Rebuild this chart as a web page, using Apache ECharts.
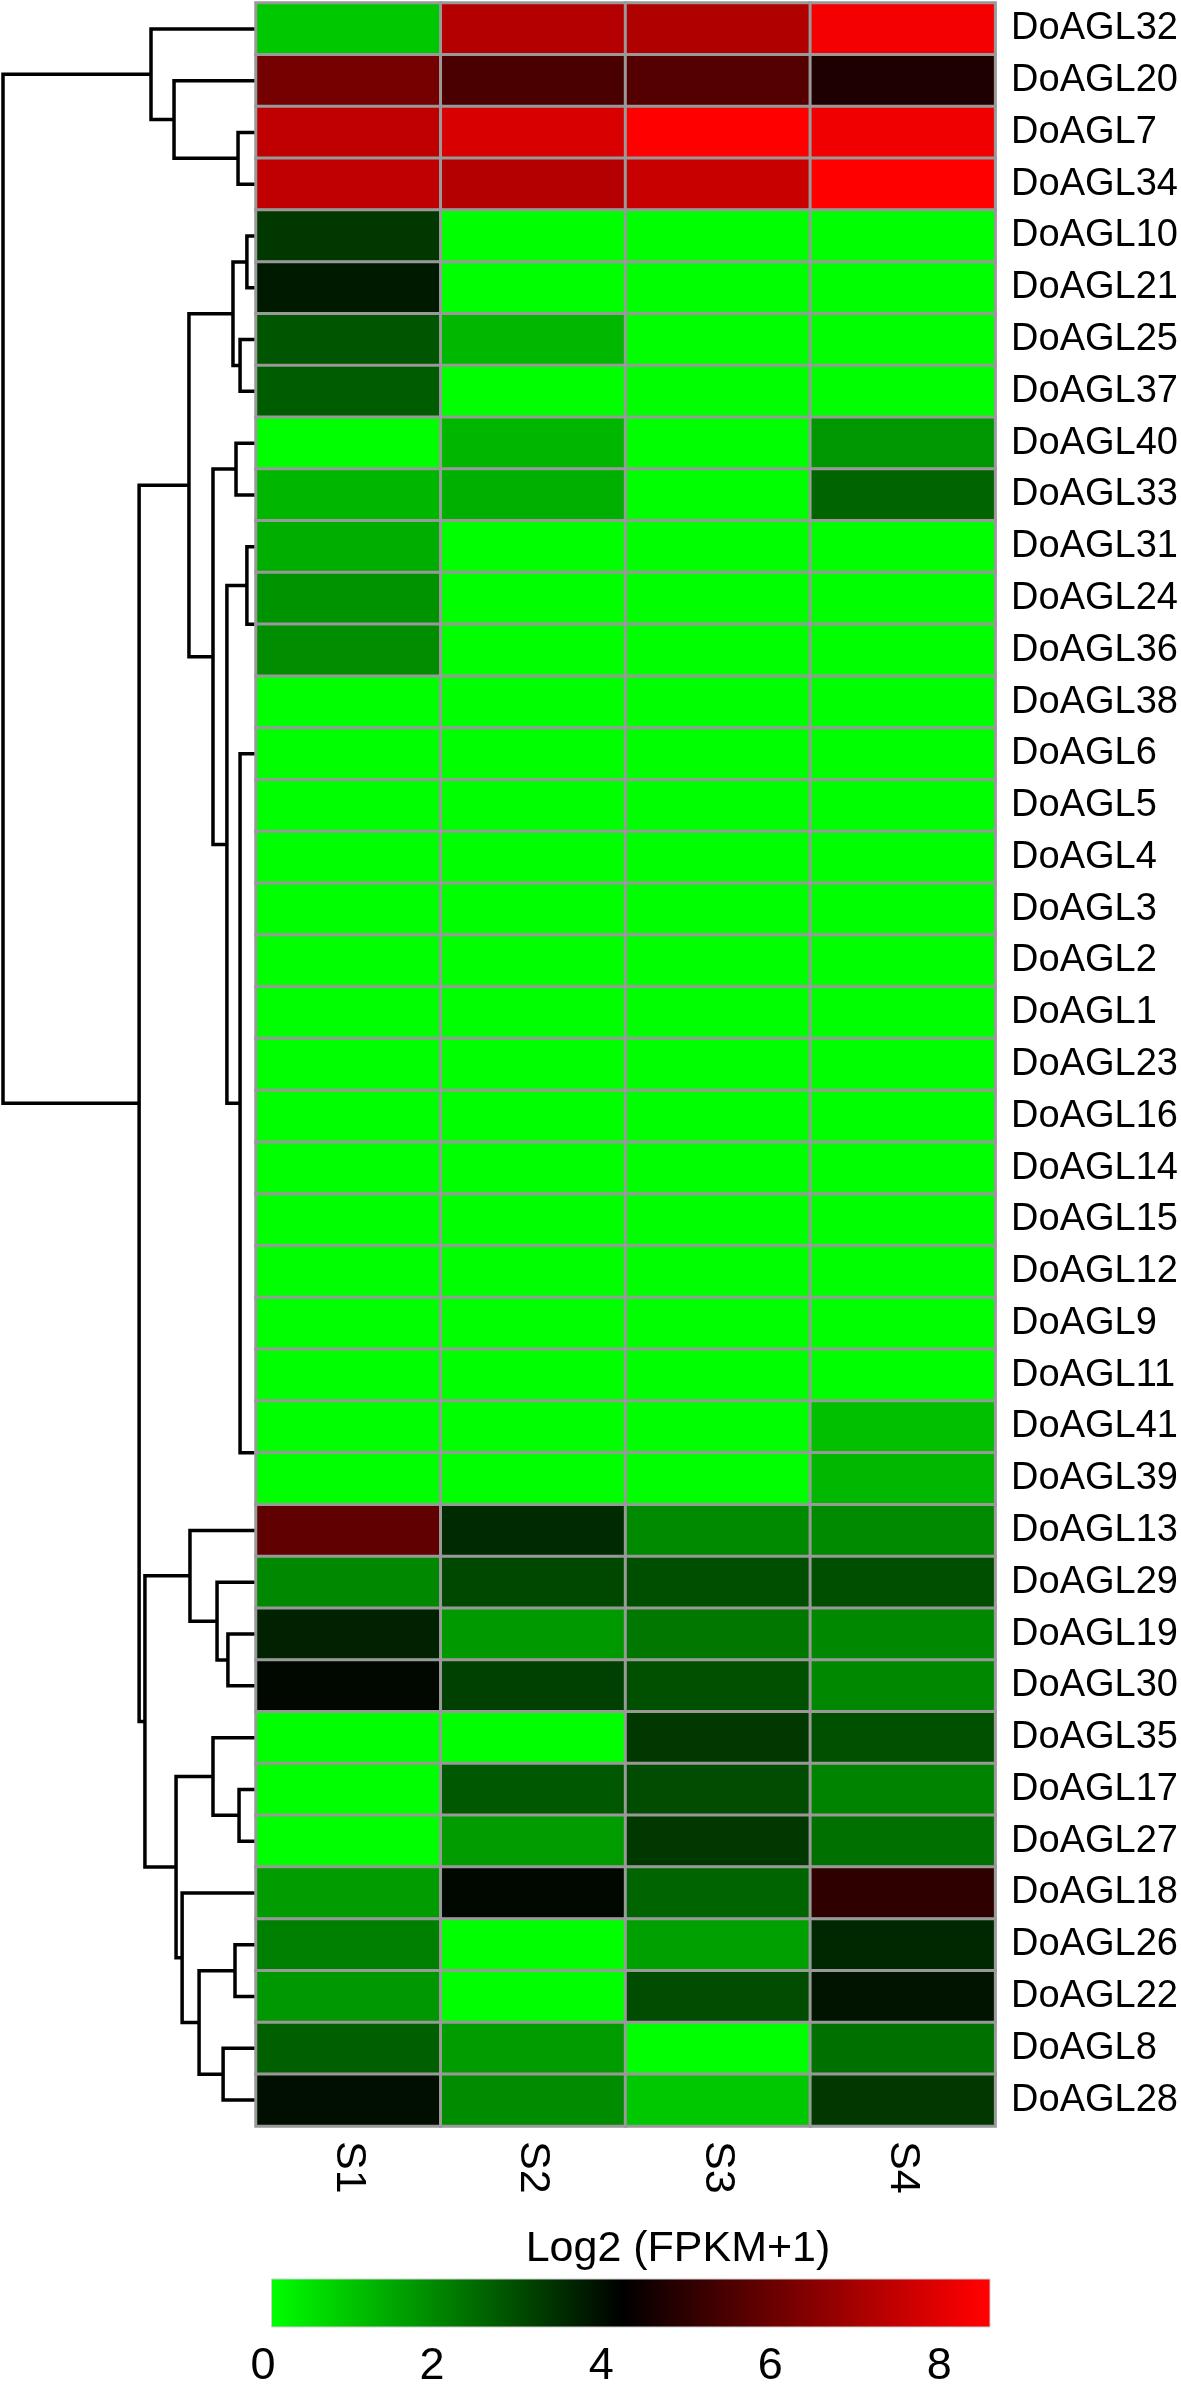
<!DOCTYPE html>
<html>
<head>
<meta charset="utf-8">
<script src="https://cdn.jsdelivr.net/npm/echarts@6/dist/echarts.min.js"></script>
<style>
html,body{margin:0;padding:0;background:#ffffff;}
#chart{width:1181px;height:2390px;}
</style>
</head>
<body>
<div id="chart"></div>
<script>
// ---------- data ----------
const genes = ['DoAGL32','DoAGL20','DoAGL7','DoAGL34','DoAGL10','DoAGL21','DoAGL25','DoAGL37','DoAGL40','DoAGL33',
  'DoAGL31','DoAGL24','DoAGL36','DoAGL38','DoAGL6','DoAGL5','DoAGL4','DoAGL3','DoAGL2','DoAGL1',
  'DoAGL23','DoAGL16','DoAGL14','DoAGL15','DoAGL12','DoAGL9','DoAGL11','DoAGL41','DoAGL39','DoAGL13',
  'DoAGL29','DoAGL19','DoAGL30','DoAGL35','DoAGL17','DoAGL27','DoAGL18','DoAGL26','DoAGL22','DoAGL8','DoAGL28'];
const samples = ['S1','S2','S3','S4'];
const S1 = [0.92,6.18,7.45,7.45,3.32,3.82,2.83,2.72,0,1.2, 1.35,1.8,1.9,0,0,0,0,0,0,0, 0,0,0,0,0,0,0,0,0,5.85, 1.98,3.68,4.12,0,0,0,1.65,2.12,1.72,2.65,4.0];
const S2 = [7.25,5.48,7.85,7.25,0,0,1.18,0,1.2,1.32, 0,0,0,0,0,0,0,0,0,0, 0,0,0,0,0,0,0,0,0,3.55, 3.05,1.68,3.18,0,2.78,1.65,4.12,0,0,1.65,1.91];
const S3 = [7.18,5.67,8.5,7.58,0,0,0,0,0,0, 0,0,0,0,0,0,0,0,0,0, 0,0,0,0,0,0,0,0,0,1.95, 2.93,2.25,2.92,3.32,2.98,3.32,2.58,1.58,2.98,0,0.92];
const S4 = [8.33,4.75,8.25,8.5,0,0,0,0,1.72,2.58, 0,0,0,0,0,0,0,0,0,0, 0,0,0,0,0,0,0,1.05,1.18,1.95, 2.93,1.98,1.98,2.92,2.05,2.38,5.02,3.58,3.92,2.38,3.32];

// colour scale (Log2 (FPKM+1))
const rampValues = [0, 4.25, 8.5];
const rampColors = ['#00ff00', '#000000', '#ff0000'];
const colorTicks = [0, 2, 4, 6, 8];
const colorbarRange = [0.1, 8.6];

// dendrogram: [height, left, right]
const zeroBlock = [0,'DoAGL38',[0,'DoAGL6',[0,'DoAGL5',[0,'DoAGL4',[0,'DoAGL3',[0,'DoAGL2',[0,'DoAGL1',
  [0,'DoAGL23',[0,'DoAGL16',[0,'DoAGL14',[0,'DoAGL15',[0,'DoAGL12',[0,'DoAGL9','DoAGL11']]]]]]]]]]]]];
const cladeRed = [4.15,'DoAGL32',[3.24,'DoAGL20',[0.71,'DoAGL7','DoAGL34']]];
const cladeLow = [2.65,
  [0.91,[0.36,'DoAGL10','DoAGL21'],[0.63,'DoAGL25','DoAGL37']],
  [1.70,[0.79,'DoAGL40','DoAGL33'],
    [1.15,[0.36,'DoAGL31',[0,'DoAGL24','DoAGL36']],[0.63,zeroBlock,[0,'DoAGL41','DoAGL39']]]]];
const cladeMid = [4.39,
  [2.61,'DoAGL13',[1.54,'DoAGL29',[1.11,'DoAGL19','DoAGL30']]],
  [3.16,[1.70,'DoAGL35',[0.67,'DoAGL17','DoAGL27']],
    [2.92,'DoAGL18',[2.25,[0.83,'DoAGL26','DoAGL22'],[1.30,'DoAGL8','DoAGL28']]]]];
const treeRoot = [10.0, cladeRed, [4.62, cladeLow, cladeMid]];

// ---------- build ----------
const sampleCols = [S1, S2, S3, S4];
const heatData = [];
genes.forEach((g, i) => sampleCols.forEach((col, j) => heatData.push([j, i, col[i]])));

const treeSegs = [];
function layoutTree(node) {
  if (typeof node === 'string') return { y: genes.indexOf(node), h: 0 };
  const a = layoutTree(node[1]);
  const b = layoutTree(node[2]);
  treeSegs.push([node[0], a.y, b.y, a.h, b.h]);
  return { y: (a.y + b.y) / 2, h: node[0] };
}
layoutTree(treeRoot);

const FONT = "'Liberation Sans', Arial, Helvetica, sans-serif";
const TOP = 3, HM_LEFT = 256, HM_W = 741, HM_H = 2123;

const chart = echarts.init(document.getElementById('chart'), null, { renderer: 'canvas' });
chart.setOption({
  animation: false,
  backgroundColor: '#ffffff',
  grid: [
    { left: 3, top: TOP, width: HM_LEFT - 3, height: HM_H },
    { left: HM_LEFT, top: TOP, width: HM_W, height: HM_H },
    { left: 263, top: 2279, width: 727, height: 48 }
  ],
  xAxis: [
    { gridIndex: 0, type: 'value', min: 0, max: 10, inverse: true, show: false },
    { gridIndex: 1, type: 'category', data: samples, position: 'bottom',
      axisLine: { show: false }, axisTick: { show: false }, splitLine: { show: false },
      axisLabel: { rotate: -90, fontSize: 43, color: '#000', fontFamily: FONT, margin: 15 } },
    { gridIndex: 2, type: 'value', min: 0, max: 8.6,
      axisLine: { show: false }, axisTick: { show: false }, splitLine: { show: false },
      axisLabel: { customValues: colorTicks, fontSize: 45, color: '#000', fontFamily: FONT, margin: 17 } }
  ],
  yAxis: [
    { gridIndex: 0, type: 'value', min: -0.5, max: genes.length - 0.5, inverse: true, show: false },
    { gridIndex: 1, type: 'category', data: genes, inverse: true, position: 'right',
      axisLine: { show: false }, axisTick: { show: false }, splitLine: { show: false },
      axisLabel: { fontSize: 38, color: '#000', fontFamily: FONT, margin: 16 } },
    { gridIndex: 2, type: 'value', min: 0, max: 1, show: false }
  ],
  visualMap: {
    type: 'continuous', show: false, seriesIndex: 1,
    min: rampValues[0], max: rampValues[rampValues.length - 1],
    inRange: { color: rampColors }
  },
  graphic: [{
    type: 'text', x: 678, y: 2249,
    style: { text: 'Log2 (FPKM+1)', fontSize: 43, fontFamily: FONT, fill: '#000',
      textAlign: 'center', textVerticalAlign: 'middle' }
  }],
  series: [
    {
      type: 'custom', xAxisIndex: 0, yAxisIndex: 0, data: treeSegs, clip: false, z: 1,
      silent: true,
      renderItem: function (params, api) {
        const h = api.value(0), y1 = api.value(1), y2 = api.value(2), h1 = api.value(3), h2 = api.value(4);
        if (h <= 0) return { type: 'group', children: [] };
        return {
          type: 'polyline',
          shape: { points: [api.coord([h1, y1]), api.coord([h, y1]), api.coord([h, y2]), api.coord([h2, y2])] },
          style: { stroke: '#000', lineWidth: 3.5, fill: null, lineJoin: 'miter' }
        };
      }
    },
    {
      type: 'heatmap', xAxisIndex: 1, yAxisIndex: 1, data: heatData, z: 3,
      itemStyle: { borderColor: '#999999', borderWidth: 3 },
      emphasis: { disabled: true }, silent: true
    },
    {
      type: 'custom', xAxisIndex: 2, yAxisIndex: 2, data: [colorbarRange], clip: false, silent: true,
      renderItem: function (params, api) {
        const lo = api.value(0), hi = api.value(1);
        const a = api.coord([lo, 1]), b = api.coord([hi, 0]);
        const stops = rampValues.map((v, k) => ({
          offset: Math.min(1, Math.max(0, (v - lo) / (hi - lo))), color: rampColors[k]
        }));
        stops.push({ offset: 1, color: rampColors[rampColors.length - 1] });
        return {
          type: 'rect',
          shape: { x: a[0], y: a[1], width: b[0] - a[0], height: b[1] - a[1] },
          style: { fill: new echarts.graphic.LinearGradient(0, 0, 1, 0, stops), stroke: '#cfcfcf', lineWidth: 1 }
        };
      }
    }
  ]
});
</script>
</body>
</html>
